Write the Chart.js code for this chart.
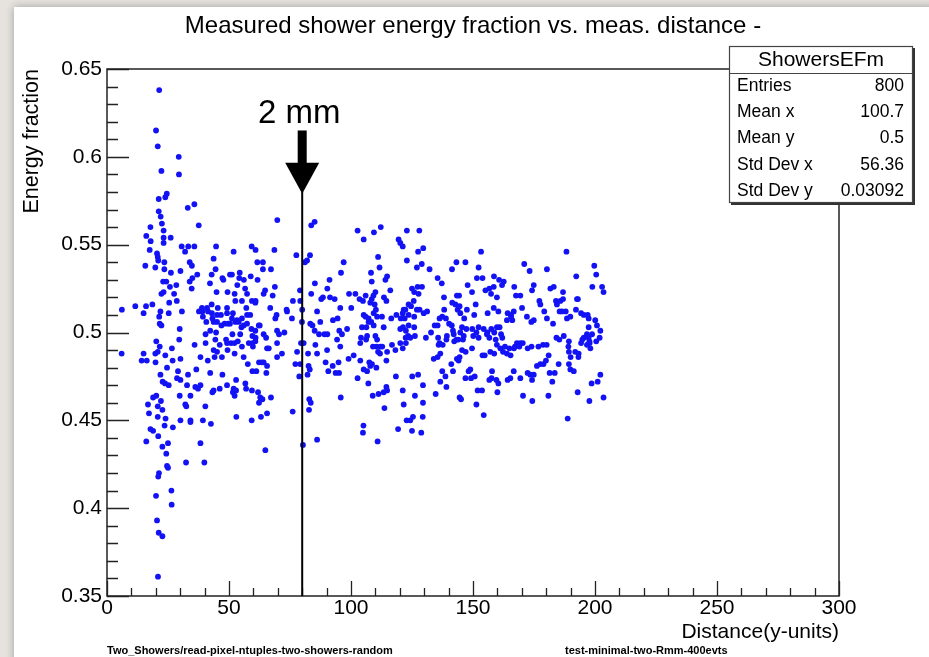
<!DOCTYPE html>
<html>
<head>
<meta charset="utf-8">
<title>Measured shower energy fraction vs. meas. distance</title>
<script src="https://cdn.jsdelivr.net/npm/chart.js@4.4.1/dist/chart.umd.min.js"></script>
<style>
  html, body { margin: 0; padding: 0; background: #e6e3df; overflow: hidden; }
  canvas { display: block; }
</style>
</head>
<body>
<canvas id="chart" width="929" height="657"></canvas>
<script>
// ---- texts ----
const titleText = 'Measured shower energy fraction vs. meas. distance -';
const xTitle = 'Distance(y-units)';
const yTitle = 'Energy fraction';
const footerLeft = 'Two_Showers/read-pixel-ntuples-two-showers-random';
const footerRight = 'test-minimal-two-Rmm-400evts';

// ---- axes ----
const xTickValues = [0, 50, 100, 150, 200, 250, 300];
const xTickLabels = ['0', '50', '100', '150', '200', '250', '300'];
const yTickValues = [0.35, 0.4, 0.45, 0.5, 0.55, 0.6, 0.65];
const yTickLabels = ['0.35', '0.4', '0.45', '0.5', '0.55', '0.6', '0.65'];

// ---- statistics box ----
const statsName = 'ShowersEFm';
const statsLabels = ['Entries', 'Mean x', 'Mean y', 'Std Dev x', 'Std Dev y'];
const statsValues = ['800', '100.7', '0.5', '56.36', '0.03092'];

// ---- 2 mm marker (distance, arrow tip / tail fraction) ----
const markerDistance = 80;
const markerLabel = '2 mm';
const markerTip = 0.579;
const markerTail = 0.615;
const markerText = 0.619;

// ---- measurements: [distance, energy fraction] ----
// upper band, distance < 100
const upperPoints = [
 [21.4,0.638],[20.1,0.615],[20.8,0.606],[29.4,0.600],[22.3,0.592],[29.5,0.590],[24.5,0.579],[23.9,0.577],
 [21.2,0.576],[33.1,0.571],[35.8,0.573],[21.2,0.569],[22.0,0.566],[22.5,0.562],[37.6,0.561],[17.8,0.560],
 [16.1,0.555],[17.9,0.552],[23.2,0.558],[23.2,0.554],[26.1,0.554],[23.2,0.551],[69.8,0.564],[83.7,0.561],
 [85.1,0.563],[30.6,0.549],[33.3,0.549],[35.8,0.549],[32.0,0.546],[44.7,0.549],[51.9,0.546],[59.3,0.549],
 [60.9,0.547],[20.5,0.545],[20.8,0.543],[21.0,0.541],[23.5,0.540],[17.5,0.547],[15.7,0.538],[19.8,0.537],
 [33.9,0.540],[34.8,0.538],[68.6,0.547],[77.6,0.544],[83.2,0.544],[82.0,0.541],[81.1,0.540],[61.6,0.540],
 [63.9,0.540],[63.9,0.536],[43.7,0.542],[44.5,0.536],[30.1,0.535],[26.2,0.534],[23.5,0.536],[97.0,0.540],
 [95.9,0.534],[37.0,0.533],[33.9,0.529],[35.0,0.531],[34.7,0.525],[42.2,0.528],[42.9,0.533],[47.3,0.531],
 [47.7,0.530],[50.4,0.533],[51.2,0.533],[54.4,0.534],[54.2,0.531],[56.1,0.530],[67.2,0.536],[58.9,0.532],
 [61.7,0.530],[23.0,0.529],[24.3,0.529],[25.8,0.526],[28.4,0.527],[22.3,0.522],[23.2,0.523],[25.5,0.517],
 [27.5,0.522],[28.6,0.518],[44.9,0.523],[49.4,0.523],[53.4,0.527],[52.3,0.522],[56.6,0.525],[57.4,0.522],
 [64.8,0.524],[64.2,0.522],[68.8,0.526],[67.9,0.521],[79.1,0.524],[83.7,0.522],[85.2,0.528],[91.2,0.530],
 [90.3,0.525],[88.5,0.520],[87.8,0.519],[91.4,0.520],[93.3,0.519],[99.2,0.522],[6.1,0.513],[11.6,0.515],
 [16.0,0.515],[18.6,0.516],[38.9,0.514],[41.0,0.514],[42.9,0.516],[45.4,0.514],[49.2,0.514],[52.6,0.518],
 [55.3,0.518],[59.4,0.518],[60.9,0.518],[60.8,0.517],[57.1,0.514],[66.9,0.514],[76.2,0.518],[79.2,0.518],
 [73.6,0.513],[80.0,0.513],[95.6,0.514]
];

// lower band, distance < 100
const lowerPoints = [
 [15.0,0.511],[21.4,0.509],[21.9,0.512],[25.3,0.511],[30.7,0.512],[37.7,0.512],[39.1,0.512],[41.4,0.512],
 [43.0,0.511],[45.1,0.510],[46.7,0.510],[49.2,0.511],[51.6,0.511],[53.3,0.507],[55.3,0.508],[57.4,0.510],
 [58.7,0.510],[62.2,0.504],[69.0,0.508],[69.5,0.510],[73.8,0.512],[75.8,0.508],[79.9,0.506],[86.1,0.512],
 [83.3,0.505],[21.6,0.505],[22.3,0.504],[29.8,0.502],[29.6,0.496],[39.3,0.509],[40.7,0.506],[43.2,0.508],
 [43.7,0.506],[45.1,0.506],[46.9,0.504],[48.2,0.505],[49.6,0.505],[50.4,0.505],[51.2,0.508],[52.6,0.506],
 [54.0,0.506],[55.1,0.503],[56.0,0.504],[57.4,0.505],[59.2,0.502],[60.8,0.501],[62.6,0.504],[40.4,0.499],
 [42.3,0.501],[44.7,0.500],[51.4,0.499],[54.6,0.499],[59.6,0.498],[60.9,0.497],[64.2,0.499],[65.2,0.497],
 [69.7,0.501],[70.5,0.499],[72.7,0.500],[20.2,0.495],[21.6,0.492],[19.8,0.488],[20.8,0.489],[23.9,0.487],
 [26.6,0.491],[24.6,0.480],[26.9,0.484],[30.1,0.485],[29.1,0.478],[28.7,0.474],[30.1,0.473],[6.0,0.488],
 [15.0,0.488],[14.2,0.484],[16.3,0.484],[19.9,0.483],[21.9,0.476],[22.8,0.472],[23.8,0.471],[25.3,0.470],
 [33.2,0.476],[36.6,0.479],[32.8,0.470],[36.2,0.469],[37.3,0.468],[35.9,0.493],[38.3,0.486],[40.4,0.494],
 [41.3,0.484],[43.7,0.490],[44.1,0.486],[45.1,0.489],[44.4,0.496],[46.2,0.493],[47.1,0.486],[48.8,0.496],
 [49.2,0.494],[50.8,0.494],[49.4,0.490],[52.2,0.494],[53.6,0.495],[52.3,0.488],[55.3,0.492],[56.0,0.486],
 [58.1,0.494],[59.6,0.494],[60.8,0.495],[59.8,0.492],[62.3,0.483],[63.4,0.483],[64.2,0.483],[65.6,0.481],
 [59.6,0.478],[61.2,0.478],[65.3,0.477],[57.7,0.482],[69.7,0.494],[71.7,0.488],[69.7,0.486],[65.6,0.491],
 [66.3,0.491],[80.6,0.494],[79.5,0.494],[77.9,0.489],[77.2,0.482],[79.2,0.482],[78.8,0.475],[82.6,0.481],
 [82.4,0.488],[83.1,0.479],[82.2,0.476],[85.4,0.493],[86.1,0.488],[86.9,0.499],[85.1,0.501],[84.2,0.504],
 [87.4,0.506],[89.1,0.499],[90.3,0.499],[89.6,0.483],[90.2,0.490],[90.7,0.478],[92.5,0.481],[93.7,0.477],
 [95.1,0.477],[94.9,0.483],[94.3,0.496],[95.6,0.492],[99.0,0.485],[98.4,0.502],[96.3,0.499],[95.2,0.501],
 [94.5,0.508],[92.6,0.507],[42.3,0.477],[38.3,0.470],[47.3,0.476],[43.7,0.467],[43.2,0.466],[46.2,0.468],
 [49.2,0.470],[52.9,0.473],[51.9,0.468],[51.6,0.466],[52.3,0.464],[52.9,0.467],[56.7,0.471],[57.0,0.468],
 [59.4,0.467],[61.9,0.466],[62.8,0.463],[63.7,0.462],[62.3,0.460],[67.2,0.463],[65.6,0.454],[63.1,0.452],
 [59.3,0.450],[53.0,0.452],[42.6,0.448],[29.8,0.464],[32.1,0.459],[32.5,0.458],[34.2,0.464],[30.1,0.450],
 [34.2,0.450],[34.2,0.449],[39.3,0.450],[40.3,0.458],[38.3,0.437],[32.4,0.426],[39.9,0.426],[16.8,0.459],
 [18.9,0.463],[20.2,0.464],[20.8,0.458],[22.1,0.461],[22.7,0.456],[20.8,0.452],[17.2,0.454],[24.0,0.451],
 [23.6,0.447],[27.0,0.446],[17.8,0.445],[18.9,0.444],[21.0,0.441],[16.1,0.438],[22.7,0.435],[25.0,0.437],
 [24.3,0.431],[24.6,0.424],[25.0,0.423],[21.3,0.420],[21.0,0.418],[20.1,0.407],[26.4,0.410],[26.5,0.402],
 [20.5,0.393],[21.2,0.386],[22.7,0.384],[20.9,0.361],[76.1,0.455],[82.9,0.462],[83.5,0.460],[82.8,0.456],
 [86.1,0.439],[80.3,0.436],[64.9,0.433]
];

// distance >= 100
const farPoints = [
 [102.7,0.558],[105.2,0.553],[109.4,0.557],[112.2,0.560],[122.9,0.558],[128.0,0.558],[119.5,0.553],[120.2,0.551],
 [121.2,0.549],[127.5,0.546],[129.6,0.548],[153.3,0.546],[188.3,0.546],[111.1,0.543],[111.7,0.537],[122.9,0.541],
 [127.0,0.537],[129.0,0.539],[132.2,0.536],[143.2,0.540],[146.9,0.540],[141.4,0.536],[152.3,0.537],[171.0,0.539],
 [173.2,0.535],[180.3,0.536],[192.3,0.532],[199.7,0.538],[200.5,0.533],[108.2,0.534],[108.5,0.529],[114.8,0.532],
 [114.1,0.530],[135.5,0.531],[137.2,0.528],[158.6,0.532],[160.7,0.530],[162.6,0.529],[151.6,0.531],[153.9,0.531],
 [147.8,0.527],[155.1,0.524],[156.7,0.525],[157.4,0.522],[158.5,0.526],[159.8,0.520],[161.9,0.527],[174.9,0.527],
 [174.2,0.524],[166.9,0.526],[167.6,0.521],[169.4,0.521],[181.7,0.525],[183.1,0.526],[186.9,0.523],[193.0,0.519],
 [198.9,0.526],[202.9,0.526],[203.5,0.523],[101.8,0.522],[103.5,0.519],[104.9,0.518],[106.0,0.521],[110.0,0.523],
 [109.2,0.521],[108.5,0.519],[107.9,0.517],[109.7,0.516],[113.5,0.520],[114.5,0.518],[116.1,0.524],[125.0,0.525],
 [125.9,0.523],[127.3,0.526],[129.1,0.526],[127.7,0.522],[125.7,0.518],[124.6,0.515],[123.6,0.516],[122.3,0.513],
 [121.6,0.513],[125.9,0.509],[127.0,0.513],[128.1,0.513],[129.8,0.511],[131.2,0.512],[138.1,0.520],[141.5,0.517],
 [143.4,0.521],[144.3,0.521],[142.8,0.516],[144.5,0.515],[143.7,0.513],[144.8,0.511],[146.4,0.508],[147.5,0.513],
 [149.6,0.523],[151.1,0.516],[150.5,0.510],[156.0,0.511],[158.5,0.514],[160.4,0.512],[164.2,0.511],[165.6,0.510],
 [166.7,0.512],[165.6,0.509],[163.9,0.507],[166.1,0.507],[170.1,0.514],[172.1,0.509],[173.9,0.506],[174.9,0.507],
 [177.2,0.518],[177.6,0.516],[179.2,0.512],[180.3,0.508],[182.8,0.505],[184.0,0.518],[184.4,0.516],[185.8,0.518],
 [186.9,0.519],[185.5,0.512],[186.5,0.512],[188.0,0.512],[188.5,0.508],[189.9,0.509],[192.2,0.513],[194.3,0.511],
 [195.4,0.510],[197.0,0.510],[197.4,0.508],[200.1,0.507],[200.8,0.504],[100.1,0.514],[105.2,0.510],[106.0,0.509],
 [110.2,0.513],[109.3,0.511],[110.7,0.509],[107.2,0.508],[107.2,0.506],[108.3,0.506],[112.7,0.509],[116.5,0.508],
 [118.6,0.510],[121.2,0.511],[120.4,0.508],[122.0,0.508],[123.6,0.510],[120.2,0.502],[121.3,0.503],[122.5,0.501],
 [123.6,0.504],[123.4,0.498],[125.9,0.503],[126.2,0.498],[124.3,0.497],[122.4,0.497],[120.2,0.494],[122.5,0.494],
 [121.2,0.491],[116.8,0.493],[118.2,0.490],[104.5,0.503],[106.3,0.503],[106.6,0.498],[106.2,0.496],[104.1,0.497],
 [103.8,0.494],[109.3,0.504],[110.0,0.498],[110.7,0.496],[109.0,0.492],[110.4,0.492],[112.0,0.492],[112.8,0.492],
 [113.4,0.503],[111.9,0.488],[114.8,0.489],[130.7,0.497],[132.8,0.500],[134.3,0.504],[135.5,0.504],[135.7,0.497],
 [136.3,0.494],[135.9,0.493],[136.3,0.508],[137.4,0.509],[138.2,0.513],[138.9,0.508],[140.2,0.505],[139.3,0.498],
 [139.1,0.496],[137.6,0.493],[141.3,0.504],[141.8,0.501],[142.1,0.499],[143.2,0.496],[142.3,0.495],[144.0,0.496],
 [145.9,0.496],[146.2,0.498],[144.8,0.500],[145.5,0.503],[147.3,0.502],[149.7,0.502],[150.1,0.498],[149.6,0.491],
 [152.3,0.497],[151.4,0.500],[152.3,0.503],[154.4,0.502],[155.7,0.499],[156.7,0.497],[155.9,0.500],[157.5,0.502],
 [158.7,0.500],[159.8,0.503],[160.9,0.503],[161.5,0.499],[162.0,0.497],[159.3,0.496],[159.8,0.493],[161.2,0.491],
 [136.6,0.488],[135.5,0.486],[133.9,0.485],[137.4,0.478],[138.7,0.475],[141.1,0.482],[141.8,0.478],[144.1,0.484],
 [143.4,0.485],[144.5,0.486],[145.5,0.490],[147.0,0.489],[148.9,0.479],[148.2,0.478],[150.7,0.475],[146.9,0.474],
 [149.2,0.474],[153.9,0.487],[154.8,0.487],[157.1,0.489],[157.8,0.478],[157.6,0.474],[156.7,0.473],[160.4,0.471],
 [160.0,0.466],[158.7,0.488],[162.3,0.489],[163.1,0.492],[163.9,0.488],[164.9,0.491],[165.4,0.487],[166.8,0.491],
 [167.2,0.492],[168.0,0.494],[169.0,0.492],[169.4,0.494],[170.4,0.494],[165.3,0.474],[166.7,0.478],[169.4,0.474],
 [172.4,0.491],[174.0,0.492],[176.8,0.492],[178.7,0.493],[180.2,0.493],[181.0,0.487],[178.9,0.482],[179.9,0.484],
 [177.6,0.482],[176.2,0.481],[174.9,0.476],[174.2,0.473],[173.5,0.476],[172.4,0.477],[181.4,0.477],[183.5,0.477],
 [182.5,0.472],[185.1,0.482],[184.2,0.497],[185.4,0.496],[187.2,0.498],[189.3,0.495],[189.1,0.492],[189.3,0.489],
 [190.0,0.486],[189.3,0.482],[189.9,0.479],[191.3,0.478],[191.9,0.489],[193.3,0.488],[193.2,0.486],[194.3,0.494],
 [194.8,0.496],[195.4,0.497],[196.7,0.499],[197.4,0.497],[197.7,0.495],[197.8,0.494],[198.1,0.491],[196.7,0.493],
 [197.4,0.503],[198.8,0.499],[202.2,0.501],[201.9,0.497],[200.5,0.495],[95.8,0.463],[101.1,0.487],[102.7,0.474],
 [103.8,0.484],[105.2,0.479],[106.6,0.478],[107.1,0.471],[108.9,0.464],[107.5,0.483],[107.9,0.481],[108.6,0.482],
 [110.4,0.480],[111.3,0.465],[113.4,0.466],[114.5,0.469],[114.8,0.467],[114.5,0.484],[111.1,0.489],[113.7,0.457],
 [121.2,0.467],[121.6,0.459],[118.4,0.475],[125.1,0.475],[127.5,0.476],[126.2,0.464],[129.5,0.470],[129.5,0.460],
 [134.7,0.465],[122.8,0.450],[124.3,0.450],[125.4,0.452],[129.4,0.452],[125.0,0.444],[128.8,0.443],[119.3,0.445],
 [110.9,0.438],[105.1,0.447],[104.9,0.443],[136.6,0.472],[139.1,0.469],[144.5,0.463],[145.1,0.462],[151.4,0.459],
 [151.9,0.467],[153.7,0.467],[154.4,0.453],[159.6,0.473],[164.2,0.473],[170.5,0.464],[174.3,0.461],[180.9,0.464],
 [188.8,0.451],[192.9,0.466],[197.7,0.461],[198.6,0.471],[201.1,0.472],[202.2,0.476],[203.5,0.463],[192.6,0.519]
];

const FONT = "'Liberation Sans', Arial, Helvetica, sans-serif";
Chart.defaults.font.family = FONT;
Chart.defaults.color = '#000';

const showerPoints = [...upperPoints, ...lowerPoints, ...farPoints].map(([x, y]) => ({ x, y }));

// Page background, frame with inward ticks, 2 mm marker, statistics box, footers
const decorations = {
  id: 'decorations',
  beforeDraw(chart) {
    const { ctx, width, height } = chart;
    ctx.save();
    ctx.fillStyle = '#e6e3df';
    ctx.fillRect(0, 0, width, height);
    ctx.shadowColor = 'rgba(0,0,0,0.30)';
    ctx.shadowBlur = 8;
    ctx.fillStyle = '#ffffff';
    ctx.fillRect(14, 7, width + 20, height + 20);
    ctx.restore();
  },
  afterDatasetsDraw(chart) {
    const { ctx, chartArea: a, scales: { x, y } } = chart;
    ctx.save();
    // frame
    ctx.strokeStyle = '#222';
    ctx.lineWidth = 1.5;
    ctx.strokeRect(a.left, a.top, a.right - a.left, a.bottom - a.top);
    // y ticks, major every 0.05, minor every 0.01
    ctx.lineWidth = 1.3;
    ctx.beginPath();
    for (let i = 35; i <= 65; i++) {
      const py = Math.round(y.getPixelForValue(i / 100)) + 0.5;
      const len = i % 5 === 0 ? 22 : 11;
      ctx.moveTo(a.left, py);
      ctx.lineTo(a.left + len, py);
    }
    // x ticks, major every 50, minor every 10
    for (let i = 0; i <= 30; i++) {
      const px = Math.round(x.getPixelForValue(i * 10)) + 0.5;
      const len = i % 5 === 0 ? 15 : 8;
      ctx.moveTo(px, a.bottom);
      ctx.lineTo(px, a.bottom - len);
    }
    ctx.stroke();

    // 2 mm marker
    const mx = x.getPixelForValue(markerDistance);
    const tipY = y.getPixelForValue(markerTip);
    const tailY = y.getPixelForValue(markerTail);
    const headBase = tipY - 31;
    ctx.fillStyle = '#000';
    ctx.fillRect(mx - 4.5, tailY, 9, headBase - tailY + 1);
    ctx.beginPath();
    ctx.moveTo(mx - 17, headBase);
    ctx.lineTo(mx + 17, headBase);
    ctx.lineTo(mx, tipY);
    ctx.closePath();
    ctx.fill();
    ctx.strokeStyle = '#000';
    ctx.lineWidth = 2;
    ctx.beginPath();
    ctx.moveTo(mx, tipY - 2);
    ctx.lineTo(mx, a.bottom);
    ctx.stroke();
    ctx.font = '33px ' + FONT;
    ctx.textAlign = 'center';
    ctx.textBaseline = 'alphabetic';
    ctx.fillText(markerLabel, mx - 3, y.getPixelForValue(markerText));
    ctx.restore();
  },
  afterDraw(chart) {
    const { ctx } = chart;
    ctx.save();
    // statistics box with shadow
    const bx = 729, by = 46, bw = 184, bh = 157, head = 27, row = 26.2;
    ctx.fillStyle = '#333';
    ctx.fillRect(bx + 2, by + 2, bw, bh);
    ctx.fillStyle = '#fff';
    ctx.fillRect(bx, by, bw, bh);
    ctx.strokeStyle = '#444';
    ctx.lineWidth = 1.2;
    ctx.strokeRect(bx + 0.5, by + 0.5, bw - 1, bh - 1);
    ctx.beginPath();
    ctx.moveTo(bx, by + head + 0.5);
    ctx.lineTo(bx + bw, by + head + 0.5);
    ctx.stroke();
    ctx.fillStyle = '#000';
    ctx.textBaseline = 'middle';
    ctx.textAlign = 'center';
    ctx.font = '21px ' + FONT;
    ctx.fillText(statsName, bx + bw / 2, by + head / 2 + 1);
    ctx.font = '17.5px ' + FONT;
    statsLabels.forEach((label, i) => {
      const ty = by + head + row * (i + 0.5);
      ctx.textAlign = 'left';
      ctx.fillText(label, bx + 8, ty);
      ctx.textAlign = 'right';
      ctx.fillText(statsValues[i], bx + bw - 9, ty);
    });
    // footers
    ctx.font = 'bold 11px ' + FONT;
    ctx.textAlign = 'left';
    ctx.fillText(footerLeft, 107, 651);
    ctx.fillText(footerRight, 565, 651);
    ctx.restore();
  }
};

new Chart(document.getElementById('chart'), {
  type: 'scatter',
  data: {
    datasets: [{
      label: statsName,
      data: showerPoints,
      backgroundColor: 'rgb(18,18,245)',
      borderWidth: 0,
      pointRadius: 2.9,
      pointHoverRadius: 2.9
    }]
  },
  options: {
    responsive: false,
    animation: false,
    devicePixelRatio: 1,
    layout: { padding: { left: 0, right: 90, top: 0, bottom: 0 } },
    plugins: {
      legend: { display: false },
      tooltip: { enabled: false },
      title: {
        display: true,
        fullSize: false,
        text: titleText,
        color: '#000',
        font: { size: 24, weight: 'normal' },
        padding: { top: 12, bottom: 28.2 }
      }
    },
    scales: {
      x: {
        type: 'linear',
        position: 'bottom',
        min: 0,
        max: 300,
        afterBuildTicks: s => { s.ticks = xTickValues.map(v => ({ value: v })); },
        afterFit: s => { s.height = 61; },
        grid: { display: false, drawTicks: false },
        border: { display: false },
        ticks: {
          callback: (v, i) => xTickLabels[i],
          font: { size: 21 },
          color: '#000',
          padding: 0,
          maxRotation: 0,
          autoSkip: false
        },
        title: {
          display: true,
          text: xTitle,
          align: 'end',
          color: '#000',
          font: { size: 21 },
          padding: { top: 0, bottom: 12 }
        }
      },
      y: {
        type: 'linear',
        position: 'left',
        min: 0.35,
        max: 0.65,
        afterBuildTicks: s => { s.ticks = yTickValues.map(v => ({ value: v })); },
        afterFit: s => { s.width = 107; },
        grid: { display: false, drawTicks: false },
        border: { display: false },
        ticks: {
          callback: (v, i) => yTickLabels[i],
          font: { size: 21 },
          color: '#000',
          padding: 5,
          autoSkip: false
        },
        title: {
          display: true,
          text: yTitle,
          align: 'end',
          color: '#000',
          font: { size: 21.5 },
          padding: { top: 19, bottom: 0 }
        }
      }
    }
  },
  plugins: [decorations]
});
</script>
</body>
</html>
